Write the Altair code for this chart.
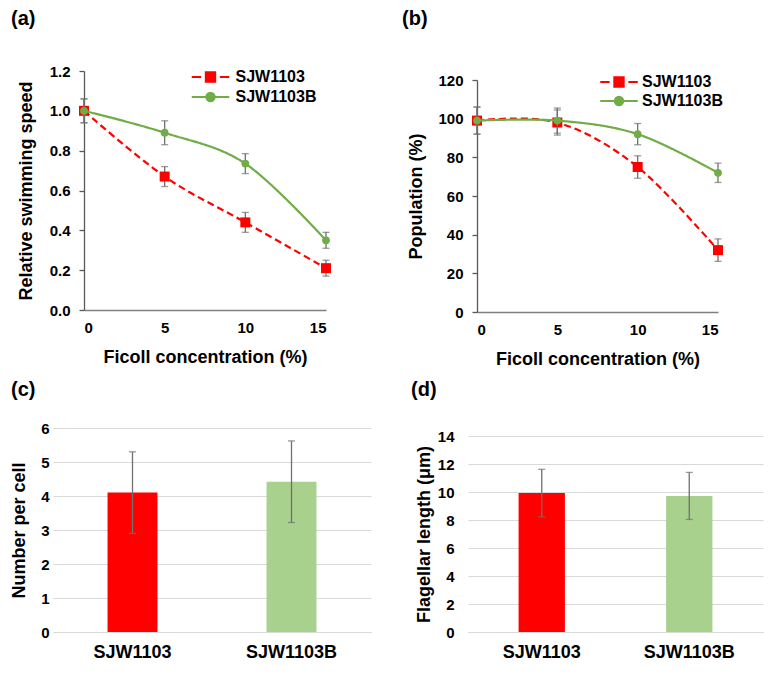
import altair as alt
import pandas as pd

# ---------------- data ----------------
series = ["SJW1103", "SJW1103B"]
ficoll = [0, 5, 10, 15]

speed_1103 = [1.00, 0.67, 0.44, 0.21]
speed_1103_err = [0.06, 0.05, 0.05, 0.04]
speed_1103B = [1.00, 0.89, 0.735, 0.35]
speed_1103B_err = [0.06, 0.06, 0.05, 0.04]

pop_1103 = [99, 98, 75, 32]
pop_1103_err = [7, 6.5, 5.8, 5.8]
pop_1103B = [99, 99, 92, 72]
pop_1103B_err = [7, 6.5, 5.5, 5]

number_per_cell = [4.1, 4.42]
number_err = [1.2, 1.2]
flag_length = [9.92, 9.72]
flag_err = [1.7, 1.68]

speed_ticks = [0, 0.2, 0.4, 0.6, 0.8, 1.0, 1.2]
pop_ticks = [0, 20, 40, 60, 80, 100, 120]
number_ticks = [0, 1, 2, 3, 4, 5, 6]
length_ticks = [0, 2, 4, 6, 8, 10, 12, 14]

line_colors = ["#FF0000", "#70AD47"]
bar_colors = ["#FF0000", "#A9D18E"]
ERR = "#707070"
FONT = "Liberation Sans"

# legend symbols: line + marker drawn as one custom path
legend_paths = [
    "M-4,0H-2M2,0H4M-1,-1H1V1H-1Z",
    "M-4,0H4M-0.9,0A0.9,0.9,0,1,0,0.9,0A0.9,0.9,0,1,0,-0.9,0Z",
]


def line_df(v1, e1, v2, e2):
    rows = []
    for s, vals, errs in [(series[0], v1, e1), (series[1], v2, e2)]:
        for x, v, e in zip(ficoll, vals, errs):
            rows.append({"ficoll": x, "series": s, "value": v, "lo": v - e, "hi": v + e})
    return pd.DataFrame(rows)


def panel_title(text, dx, offset):
    return alt.TitleParams(text, anchor="start", frame="group", dx=dx, offset=offset,
                           fontSize=20, font=FONT, fontWeight="bold", color="black")


def line_panel(df, label, ytitle, ydomain, yticks, yfmt, w, h, xr0, yr_top, toff, tdx,
               lx, ly, rowpad, loff, ytp):
    x_axis = alt.Axis(values=ficoll, title="Ficoll concentration (%)", ticks=False, grid=False,
                      domainColor="#808080", domainWidth=1.3, labelPadding=10, titlePadding=13,
                      format="d")
    y_axis = alt.Axis(values=yticks, format=yfmt, title=ytitle, grid=False, tickSize=5,
                      tickColor="#595959", domainColor="#595959", domainWidth=1.3, tickWidth=1.3,
                      labelPadding=9, titlePadding=ytp, offset=-xr0)
    xs = alt.Scale(domain=[0, 15], nice=False, zero=False, range=[xr0, w])
    ys = alt.Scale(domain=ydomain, nice=False, range=[h, yr_top])

    def X():
        return alt.X("ficoll:Q", scale=xs, axis=x_axis)

    def Y(field):
        return alt.Y(field, scale=ys, axis=y_axis)

    base = alt.Chart(df)
    layers = []
    styles = [
        (series[0], line_colors[0], [7, 4], "square", 100),
        (series[1], line_colors[1], [1, 0], "circle", 60),
    ]
    for s, col, dash, shp, size in styles:
        flt = alt.datum.series == s
        layers.append(base.transform_filter(flt).mark_line(
            interpolate="cardinal", color=col, strokeWidth=2.2, strokeDash=dash
        ).encode(x=X(), y=Y("value:Q")))
        layers.append(base.transform_filter(flt).mark_rule(color=ERR, strokeWidth=1.3).encode(
            x=X(), y=Y("lo:Q"), y2="hi:Q"))
        for f in ["lo:Q", "hi:Q"]:
            layers.append(base.transform_filter(flt).mark_tick(
                orient="horizontal", color=ERR, size=7, thickness=1.3
            ).encode(x=X(), y=Y(f)))
        layers.append(base.transform_filter(flt).mark_point(
            filled=True, opacity=1, shape=shp, size=size, color=col
        ).encode(x=X(), y=Y("value:Q")))

    leg = alt.Legend(title=None, orient="none", legendX=lx, legendY=ly, symbolSize=88,
                     symbolStrokeWidth=2, labelOffset=loff, labelFont=FONT, labelFontSize=16,
                     labelFontWeight="bold", labelColor="black", rowPadding=rowpad, padding=0,
                     symbolOpacity=1)
    legend_layer = base.transform_filter("false").mark_point(filled=True, opacity=1).encode(
        x=X(), y=Y("value:Q"),
        fill=alt.Fill("series:N", scale=alt.Scale(domain=series, range=line_colors), legend=leg),
        stroke=alt.Stroke("series:N", scale=alt.Scale(domain=series, range=line_colors), legend=leg),
        shape=alt.Shape("series:N", scale=alt.Scale(domain=series, range=legend_paths), legend=leg),
    )
    layers.append(legend_layer)
    return alt.layer(*layers).properties(width=w, height=h, title=panel_title(label, tdx, toff))


def bar_panel(vals, errs, label, ytitle, ymax, yticks, w, h, yr_top, toff, tdx, ylp, ytp):
    df = pd.DataFrame({"series": series, "value": vals,
                       "lo": [v - e for v, e in zip(vals, errs)],
                       "hi": [v + e for v, e in zip(vals, errs)]})
    x_axis = alt.Axis(title=None, labelAngle=0, ticks=False, domainColor="#D9D9D9",
                      labelPadding=11, labelFontSize=18)
    y_axis = alt.Axis(values=yticks, title=ytitle, grid=True, gridColor="#D9D9D9", domain=False,
                      ticks=False, labelPadding=ylp, titlePadding=ytp)
    xs = alt.Scale(domain=series, paddingInner=0.686, paddingOuter=0.343)
    ys = alt.Scale(domain=[0, ymax], nice=False, range=[h, yr_top])

    def X():
        return alt.X("series:N", scale=xs, axis=x_axis, sort=series)

    def Y(field):
        return alt.Y(field, scale=ys, axis=y_axis)

    base = alt.Chart(df)
    bars = base.mark_bar().encode(
        x=X(), y=Y("value:Q"),
        color=alt.Color("series:N", scale=alt.Scale(domain=series, range=bar_colors), legend=None))
    rules = base.mark_rule(color=ERR, strokeWidth=1.3).encode(x=X(), y=Y("lo:Q"), y2="hi:Q")
    caps_lo = base.mark_tick(color=ERR, size=7, thickness=1.3).encode(x=X(), y=Y("lo:Q"))
    caps_hi = base.mark_tick(color=ERR, size=7, thickness=1.3).encode(x=X(), y=Y("hi:Q"))
    return alt.layer(bars, rules, caps_lo, caps_hi).properties(
        width=w, height=h, title=panel_title(label, tdx, toff))


pa = line_panel(line_df(speed_1103, speed_1103_err, speed_1103B, speed_1103B_err),
                "(a)", "Relative swimming speed", [0, 1.2], speed_ticks, ".1f",
                273, 239, 31, 0, 35, -42, 149.5, -2, 2, 17, 14)
pb = line_panel(line_df(pop_1103, pop_1103_err, pop_1103B, pop_1103B_err),
                "(b)", "Population (%)", [0, 120], pop_ticks, "d",
                241, 241, 0, 9, 42.5, -75, 134, 3, 1, 15, 12)
pc = bar_panel(number_per_cell, number_err, "(c)", "Number per cell", 6, number_ticks,
               318, 204, 0, 21, -42, 4, 12)
pd_ = bar_panel(flag_length, flag_err, "(d)", "Flagellar length (μm)", 14, length_ticks,
                295, 204, 8, 28.5, -57, 14, 4)

row1 = alt.hconcat(pa, pb, spacing=71).resolve_scale(
    fill="independent", stroke="independent", shape="independent")
row2 = alt.hconcat(pc, pd_, spacing=40)

chart = alt.vconcat(row1, row2, spacing=11).properties(
    padding={"left": 2, "top": 0, "right": 2, "bottom": 0}
).configure_view(stroke=None).configure_axis(
    labelFont=FONT, titleFont=FONT, labelFontWeight="bold", titleFontWeight="bold",
    labelColor="black", titleColor="black", labelFontSize=15, titleFontSize=18
)

chart.save("out.html", embed_options={"renderer": "svg", "actions": False})
